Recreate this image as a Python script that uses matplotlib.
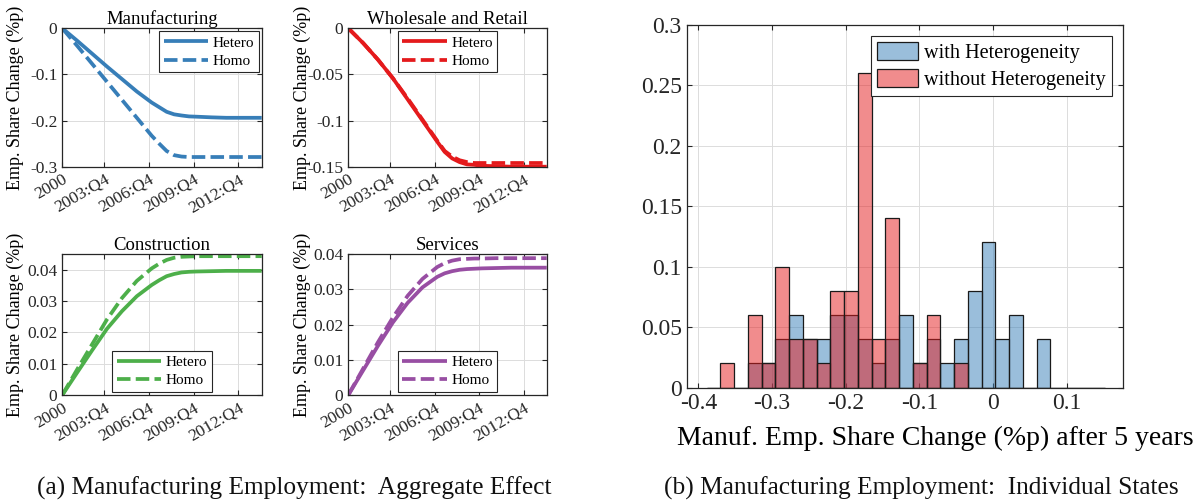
import matplotlib.pyplot as plt
import numpy as np

plt.rcParams['font.family'] = ['Liberation Serif', 'DejaVu Serif']
plt.rcParams['axes.unicode_minus'] = False

# quarters since 2000:Q1
quarters = [0, 4, 8, 12, 16, 20, 24, 26, 28, 30, 32, 34, 36, 40, 44, 48, 53.5]
tick_quarters = [0, 11.25, 23.25, 35.25, 47.25]
tick_labels = ['2000', '2003:Q4', '2006:Q4', '2009:Q4', '2012:Q4']

manuf_hetero = [0, -0.027, -0.055, -0.083, -0.110, -0.137, -0.161, -0.171, -0.181,
                -0.1865, -0.189, -0.191, -0.1916, -0.193, -0.194, -0.194, -0.194]
manuf_homo = [0, -0.038, -0.077, -0.116, -0.155, -0.194, -0.233, -0.250, -0.266,
              -0.275, -0.278, -0.279, -0.279, -0.279, -0.279, -0.279, -0.279]
retail_hetero = [0, -0.016, -0.034, -0.054, -0.077, -0.100, -0.123, -0.134, -0.141,
                 -0.145, -0.1475, -0.148, -0.149, -0.1495, -0.150, -0.150, -0.150]
retail_homo = [0, -0.016, -0.034, -0.054, -0.076, -0.099, -0.122, -0.133, -0.139,
               -0.143, -0.145, -0.146, -0.146, -0.146, -0.146, -0.146, -0.146]
constr_hetero = [0, 0.0072, 0.0143, 0.0212, 0.0268, 0.0316, 0.0352, 0.0367, 0.0380,
                 0.0387, 0.0392, 0.0394, 0.0395, 0.0396, 0.0397, 0.0397, 0.0397]
constr_homo = [0, 0.0082, 0.0162, 0.0242, 0.0310, 0.0365, 0.0405, 0.0420, 0.0432,
               0.0439, 0.0442, 0.0443, 0.0444, 0.0444, 0.0444, 0.0444, 0.0444]
serv_hetero = [0, 0.0070, 0.0140, 0.0206, 0.0262, 0.0306, 0.0336, 0.0346, 0.0352,
               0.0356, 0.0358, 0.0359, 0.0360, 0.0361, 0.0362, 0.0362, 0.0362]
serv_homo = [0, 0.0075, 0.0150, 0.0220, 0.0282, 0.0330, 0.0364, 0.0375, 0.0382,
             0.0386, 0.0387, 0.0388, 0.0388, 0.0389, 0.0389, 0.0389, 0.0389]

# state-level histogram (share of states per bin)
bin_start = -0.3886
bin_width = 0.01865
share_with = [0, 0, 0, 0.02, 0.02, 0.04, 0.06, 0.04, 0.04, 0.06, 0.06, 0.04, 0.02, 0.04,
              0.06, 0.02, 0.04, 0.02, 0.04, 0.08, 0.12, 0.04, 0.06, 0, 0.04, 0, 0, 0, 0]
share_without = [0, 0.02, 0, 0.06, 0.02, 0.10, 0.04, 0.04, 0.02, 0.08, 0.08, 0.26, 0.04, 0.14,
                 0, 0.02, 0.06, 0, 0.02, 0, 0, 0, 0, 0, 0, 0, 0, 0, 0]

W, H = 1199, 501
fig = plt.figure(figsize=(W / 100, H / 100), dpi=100)


def box(left, top, right, bottom):
    return [left / W, 1 - bottom / H, (right - left) / W, (bottom - top) / H]


ink = '#262626'
edge = '#1a1a1a'
blue_fill = (0.216, 0.494, 0.722, 0.5)
red_fill = (0.894, 0.102, 0.110, 0.5)


def style(ax):
    ax.grid(True, color='#dcdcdc', lw=0.7)
    ax.set_axisbelow(True)
    for s in ax.spines.values():
        s.set_color(ink)
        s.set_linewidth(0.9)
    ax.tick_params(direction='in', top=True, right=True, colors=ink, width=0.8)


panels = [
    ('Manufacturing', manuf_hetero, manuf_homo, '#377eb8', (62.3, 28.3, 261.7, 166.7),
     (-0.3, 0), [0, -0.1, -0.2, -0.3], ['0', '-0.1', '-0.2', '-0.3'], 'upper right'),
    ('Wholesale and Retail', retail_hetero, retail_homo, '#e41a1c', (348.3, 28.3, 546.7, 166.7),
     (-0.15, 0), [0, -0.05, -0.1, -0.15], ['0', '-0.05', '-0.1', '-0.15'], 'upper center'),
    ('Construction', constr_hetero, constr_homo, '#4daf4a', (62.3, 254.3, 261.7, 395),
     (0, 0.045), [0, 0.01, 0.02, 0.03, 0.04], ['0', '0.01', '0.02', '0.03', '0.04'], 'lower center'),
    ('Services', serv_hetero, serv_homo, '#984ea3', (348.3, 254.3, 546.7, 395),
     (0, 0.04), [0, 0.01, 0.02, 0.03, 0.04], ['0', '0.01', '0.02', '0.03', '0.04'], 'lower center'),
]

for title, het, hom, col, pos, ylim, yt, ytl, loc in panels:
    ax = fig.add_axes(box(*pos))
    ax.plot(quarters, het, color=col, lw=2.7, label='Hetero', solid_capstyle='butt')
    ax.plot(quarters, hom, color=col, lw=2.7, ls=(0, (3.6, 1.4)), label='Homo')
    ax.set_xlim(0, 53.5)
    ax.set_ylim(*ylim)
    ax.set_yticks(yt)
    ax.set_yticklabels(ytl, fontsize=12.5)
    ax.set_xticks(tick_quarters)
    ax.set_xticklabels(tick_labels, fontsize=12.5, rotation=30, ha='right',
                       va='top', rotation_mode='anchor')
    ax.set_title(title, fontsize=13.5, pad=3)
    ax.set_ylabel('Emp. Share Change (%p)', fontsize=13)
    ax.yaxis.set_label_coords(-0.19, 0.5)
    style(ax)
    leg = ax.legend(loc=loc, fontsize=11, handlelength=2.9, fancybox=False,
                    edgecolor=ink, framealpha=1, borderpad=0.3, labelspacing=0.3,
                    handletextpad=0.3, borderaxespad=0.2)
    leg.get_frame().set_linewidth(0.8)

# histogram of state-level effects
edges = bin_start + bin_width * np.arange(len(share_with) + 1)
axh = fig.add_axes(box(686.7, 24.5, 1123, 387.7))
axh.bar(edges[:-1], share_with, width=bin_width, align='edge', facecolor=blue_fill,
        edgecolor=edge, lw=0.9, label='with Heterogeneity')
axh.bar(edges[:-1], share_without, width=bin_width, align='edge', facecolor=red_fill,
        edgecolor=edge, lw=0.9, label='without Heterogeneity')
axh.set_xlim(-0.4157, 0.1763)
axh.set_ylim(0, 0.3)
axh.set_xticks([-0.4, -0.3, -0.2, -0.1, 0, 0.1])
axh.set_xticklabels(['-0.4', '-0.3', '-0.2', '-0.1', '0', '0.1'], fontsize=17)
axh.set_yticks([0, 0.05, 0.1, 0.15, 0.2, 0.25, 0.3])
axh.set_yticklabels(['0', '0.05', '0.1', '0.15', '0.2', '0.25', '0.3'], fontsize=17)
axh.set_xlabel('Manuf. Emp. Share Change (%p) after 5 years', fontsize=20)
axh.xaxis.set_label_coords(0.569, -0.105)
style(axh)
leg = axh.legend(loc='upper right', fontsize=14.6, fancybox=False, edgecolor=ink,
                 framealpha=1, handlelength=2.0, handleheight=1.0, borderpad=0.3,
                 labelspacing=0.3, handletextpad=0.3, borderaxespad=0.55)
leg.get_frame().set_linewidth(0.8)

fig.text(294 / W, 1 - 488 / H, '(a) Manufacturing Employment:  Aggregate Effect',
         fontsize=18.3, ha='center', va='center', color='#111111')
fig.text(921 / W, 1 - 488 / H, '(b) Manufacturing Employment:  Individual States',
         fontsize=18.3, ha='center', va='center', color='#111111')

fig.savefig('out.png', dpi=100)
